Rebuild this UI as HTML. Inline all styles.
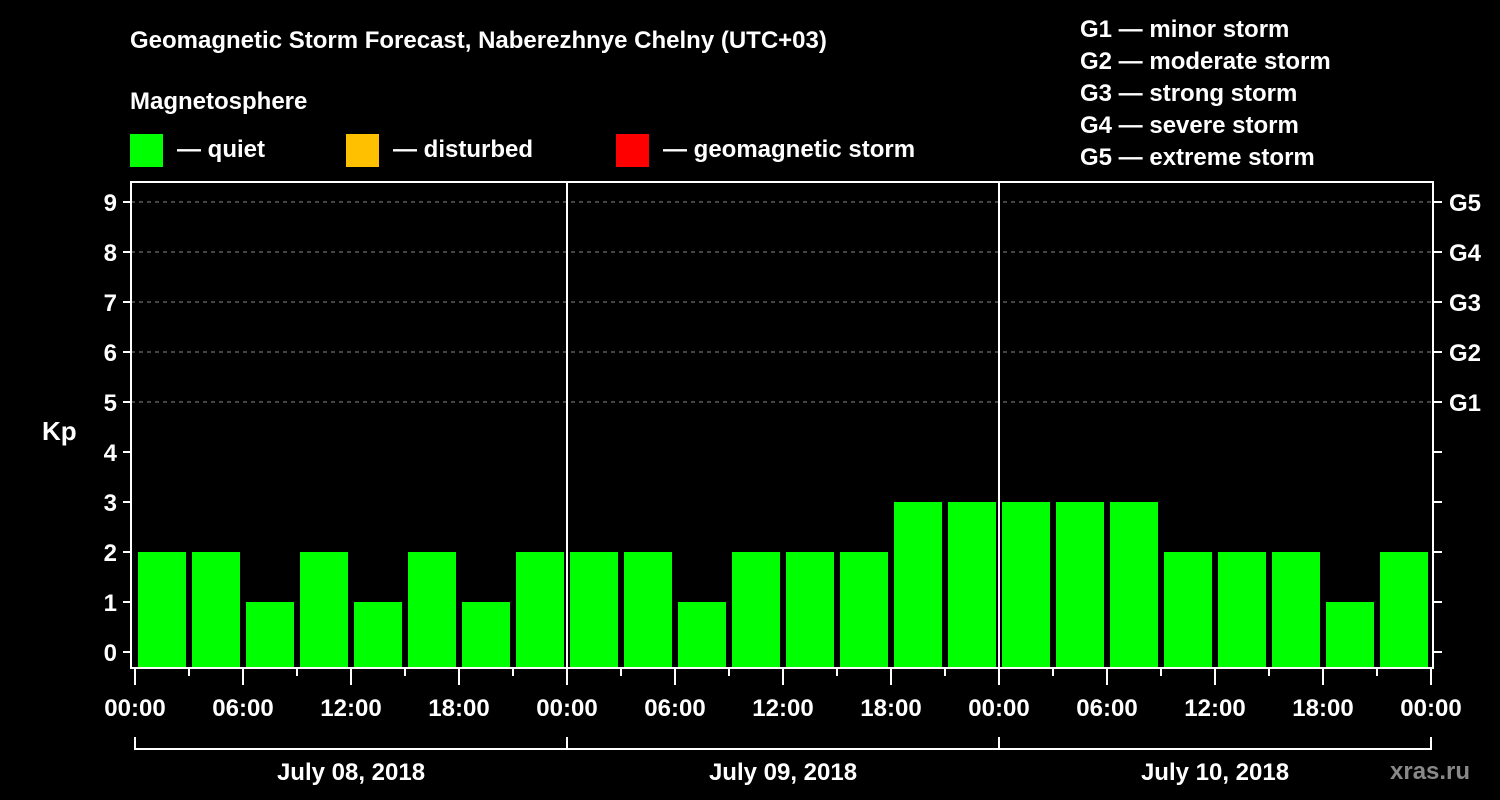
<!DOCTYPE html>
<html><head><meta charset="utf-8"><style>
html,body{margin:0;padding:0;background:#000;width:1500px;height:800px;overflow:hidden}
svg{display:block;font-family:"Liberation Sans",Arial,sans-serif;font-weight:bold}
</style></head><body>
<svg id="chart" width="1500" height="800" viewBox="0 0 1500 800">
<text x="130" y="48" fill="#fff" font-size="24">Geomagnetic Storm Forecast, Naberezhnye Chelny (UTC+03)</text>
<text x="130" y="109" fill="#fff" font-size="24">Magnetosphere</text>
<g><rect x="130" y="134" width="33" height="33" fill="#00ff00"/><text x="177" y="157" fill="#fff" font-size="24">— quiet</text></g>
<g><rect x="346" y="134" width="33" height="33" fill="#ffc000"/><text x="393" y="157" fill="#fff" font-size="24">— disturbed</text></g>
<g><rect x="616" y="134" width="33" height="33" fill="#ff0000"/><text x="663" y="157" fill="#fff" font-size="24">— geomagnetic storm</text></g>
<g fill="#fff" font-size="24">
<text x="1080" y="37">G1 — minor storm</text><text x="1080" y="69">G2 — moderate storm</text><text x="1080" y="101">G3 — strong storm</text><text x="1080" y="133">G4 — severe storm</text><text x="1080" y="165">G5 — extreme storm</text></g>
<text x="42" y="440" fill="#fff" font-size="26">Kp</text>
<g id="plot"></g>
<text x="1390" y="779" fill="#888" font-size="24">xras.ru</text>
</svg>
<script>
const values = [2,2,1,2,1,2,1,2, 2,2,1,2,2,2,3,3, 3,3,3,2,2,2,1,2];
const dayLabels = ["July 08, 2018","July 09, 2018","July 10, 2018"];
const hourLabels = ["00:00","06:00","12:00","18:00"];
const kpTicks = [0,1,2,3,4,5,6,7,8,9];
const gLabels = ["G1","G2","G3","G4","G5"];

const NS="http://www.w3.org/2000/svg";
const plot=document.getElementById('plot');
const X0=135, DAYW=432, SLOT=54;
function xs(i){return X0+i*SLOT;}
function ys(v){return 652-50*v;}
const FL=131, FR=1433, FT=182, FB=668;
function el(tag,attrs,parent){const e=document.createElementNS(NS,tag);for(const k in attrs)e.setAttribute(k,attrs[k]);(parent||plot).appendChild(e);return e;}

// grid
kpTicks.forEach(k=>{
  if(k>=5){
    const g=el('line',{x1:FL,x2:FR,y1:ys(k),y2:ys(k),stroke:'#888','stroke-dasharray':'4,4','stroke-width':1});
    
    
  }
  const t=el('line',{x1:FL-8,x2:FL,y1:ys(k),y2:ys(k),stroke:'#fff','stroke-width':2});
  
  
  const tr=el('line',{x1:FR,x2:FR+9,y1:ys(k),y2:ys(k),stroke:'#fff','stroke-width':2});
  
  
  const lb=el('text',{x:FL-14,y:ys(k)+9,fill:'#fff','font-size':24,'text-anchor':'end'});
  lb.textContent=k;
  
  
});
gLabels.forEach((g,i)=>{
  const t=el('text',{x:1449,y:ys(5+i)+9,fill:'#fff','font-size':24});
  t.textContent=g;
  
  
});
// bars
values.forEach((v,i)=>{
  const b=el('rect',{x:xs(i)+3,y:ys(v),width:48,height:FB-ys(v)-1,fill:v>=5?'#ff0000':(v>=4?'#ffc000':'#00ff00')});
  
  
});
// frame
const fr=el('rect',{x:FL,y:FT,width:FR-FL,height:FB-FT,fill:'none',stroke:'#fff','stroke-width':2});


for(let d=1;d<dayLabels.length;d++){
  const s=el('line',{x1:X0+d*DAYW,x2:X0+d*DAYW,y1:FT,y2:FB,stroke:'#fff','stroke-width':2});
  
  
}
// x ticks
for(let i=0;i<=values.length;i++){
  const major=i%2===0;
  const t=el('line',{x1:xs(i),x2:xs(i),y1:FB,y2:FB+(major?17:8),stroke:'#fff','stroke-width':2});
  
  
  if(major){
    const lb=el('text',{x:xs(i),y:716,fill:'#fff','font-size':24,'text-anchor':'middle'});
    lb.textContent=hourLabels[(i/2)%4];
    
    
  }
}
// day brackets
dayLabels.forEach((d,i)=>{
  const x1=X0+i*DAYW, x2=x1+DAYW;
  const p=el('path',{d:`M${x1},737 V749 H${x2} V737`,fill:'none',stroke:'#fff','stroke-width':2});
  
  
  const t=el('text',{x:(x1+x2)/2,y:780,fill:'#fff','font-size':24,'text-anchor':'middle'});
  t.textContent=d;
  
  
});
</script>
</body></html>
